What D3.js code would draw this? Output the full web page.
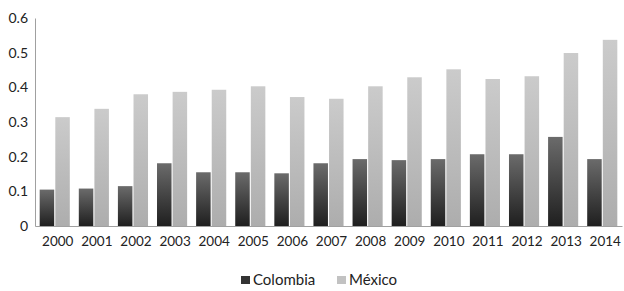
<!DOCTYPE html>
<html>
<head>
<meta charset="utf-8">
<script src="https://cdn.jsdelivr.net/npm/d3@7"></script>
<style>
  body { margin: 0; background: #fff; }
  text { font-family: Lato, "Open Sans", sans-serif; fill: #222; }
</style>
</head>
<body>
<div id="container"></div>
<script>
/* DATA */
const years = ["2000", "2001", "2002", "2003", "2004", "2005", "2006", "2007",
  "2008", "2009", "2010", "2011", "2012", "2013", "2014"];
const colombia = [0.105, 0.108, 0.115, 0.181, 0.155, 0.155, 0.152, 0.181,
  0.193, 0.190, 0.193, 0.207, 0.207, 0.257, 0.193];
const mexico = [0.314, 0.338, 0.380, 0.387, 0.393, 0.403, 0.372, 0.367,
  0.403, 0.429, 0.452, 0.424, 0.432, 0.499, 0.537];
const series = ["Colombia", "México"];
const yTicks = [0, 0.1, 0.2, 0.3, 0.4, 0.5, 0.6];

/* CONSTANTS */
const width = 624;
const height = 291;
const margin = {top: 18, bottom: 65, left: 35, right: 2};

const svg = d3.select("#container")
  .append("svg")
    .attr("width", width)
    .attr("height", height);

const xScale = d3.scaleBand()
  .domain(years)
  .range([margin.left, width - margin.right])
  .paddingInner(0.23)
  .paddingOuter(0.12);

const subScale = d3.scaleBand()
  .domain(series)
  .range([0, xScale.bandwidth()])
  .paddingInner(0.07);

const yScale = d3.scaleLinear()
  .domain([0, 0.6])
  .range([height - margin.bottom, margin.top]);

// gradients for the bars
const defs = svg.append("defs");
const grads = [
  {id: "gDark", top: "#6b6b6b", bottom: "#1f1f1f"},
  {id: "gLight", top: "#cbcbcb", bottom: "#adadad"}
];
grads.forEach(g => {
  const lg = defs.append("linearGradient")
    .attr("id", g.id)
    .attr("x1", 0).attr("y1", 0).attr("x2", 0).attr("y2", 1);
  lg.append("stop").attr("offset", "0%").attr("stop-color", g.top);
  lg.append("stop").attr("offset", "100%").attr("stop-color", g.bottom);
});
const fillFor = {"Colombia": "url(#gDark)", "México": "url(#gLight)"};
const legendFill = {"Colombia": "#333", "México": "#c2c2c2"};

// y axis
const yAxis = d3.axisLeft(yScale)
  .tickValues(yTicks)
  .tickSize(0)
  .tickPadding(7)
  .tickFormat(d => d === 0 ? "0" : d3.format(".1f")(d));

svg.append("g")
  .attr("transform", `translate(${margin.left}, 0)`)
  .call(yAxis)
  .call(g => g.select(".domain").attr("stroke", "#a0a0a0"))
  .call(g => g.selectAll("text").style("font-size", "14px").attr("fill", "#222"));

// bars
const rows = years.map((y, i) => ({year: y, values: [
  {key: "Colombia", value: colombia[i]},
  {key: "México", value: mexico[i]}
]}));

svg.append("g")
  .selectAll("g")
  .data(rows)
  .join("g")
    .attr("transform", d => `translate(${xScale(d.year)}, 0)`)
  .selectAll("rect")
  .data(d => d.values)
  .join("rect")
    .attr("x", d => subScale(d.key))
    .attr("y", d => yScale(d.value))
    .attr("width", subScale.bandwidth())
    .attr("height", d => yScale(0) - yScale(d.value))
    .attr("fill", d => fillFor[d.key]);

// x axis
const xAxis = d3.axisBottom(xScale).tickSize(0).tickPadding(10);
svg.append("g")
  .attr("transform", `translate(0, ${yScale(0)})`)
  .call(xAxis)
  .call(g => g.select(".domain").attr("stroke", "#a0a0a0"))
  .call(g => g.selectAll("text")
    .style("font-size", "13.5px")
    .attr("dx", 3)
    .attr("fill", "#222"));

// legend
const legendItems = [
  {key: "Colombia", x: 241},
  {key: "México", x: 337}
];
const legend = svg.append("g").attr("transform", "translate(0, 280)");
legend.selectAll("rect")
  .data(legendItems)
  .join("rect")
    .attr("x", d => d.x)
    .attr("y", -4)
    .attr("width", 9)
    .attr("height", 8)
    .attr("fill", d => legendFill[d.key]);
legend.selectAll("text")
  .data(legendItems)
  .join("text")
    .attr("x", d => d.x + 12)
    .attr("y", 0)
    .attr("dy", "0.35em")
    .style("font-size", "15px")
    .text(d => d.key);
</script>
</body>
</html>
